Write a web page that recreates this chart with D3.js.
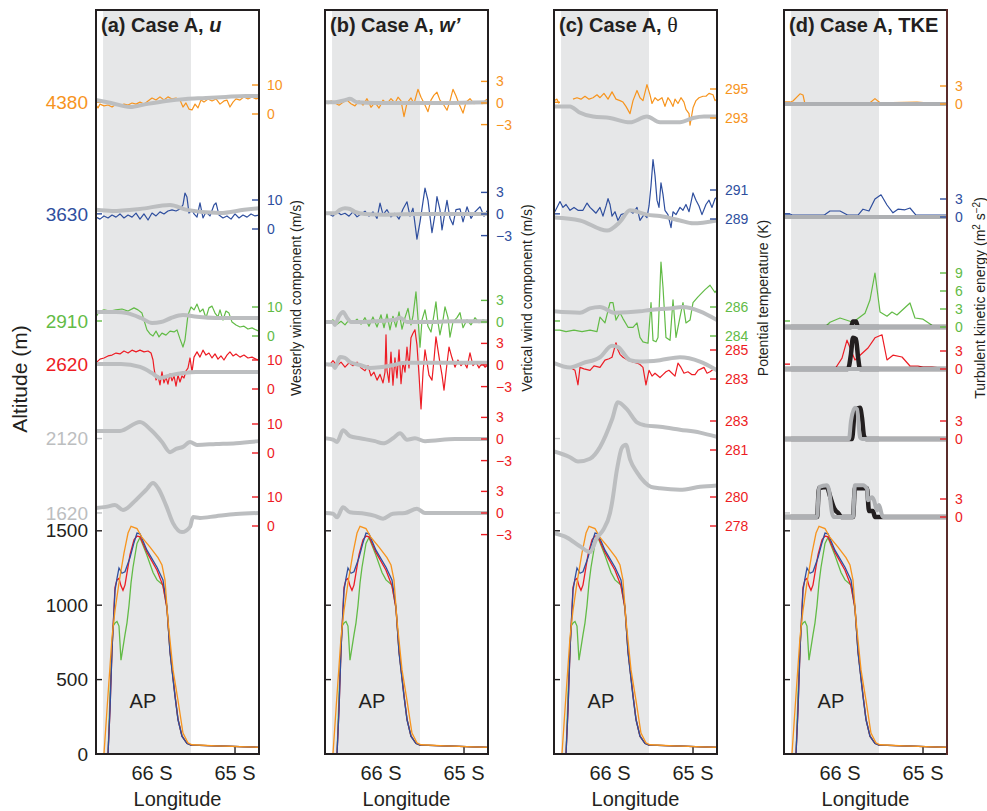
<!DOCTYPE html>
<html lang="en">
<head>
<meta charset="utf-8">
<title>Case A transects</title>
<script src="https://cdn.jsdelivr.net/npm/d3@7"></script>
<style>
  body { margin: 0; background: #fff; }
  svg text { font-family: "Liberation Sans", Arial, Helvetica, sans-serif; fill: #231f20; }
</style>
</head>
<body>
<svg id="chart" width="987" height="811"></svg>
<script>

// ---- common values ----
var LEVELS = [4380, 3630, 2910, 2620, 2120, 1620];
var ALT_TICKS = [0, 500, 1000, 1500];
var LAT_TICKS = [66, 65];
var LAT_TICK_LABELS = ['66 S', '65 S'];
var LAT_DOMAIN = [66.675, 64.711];
var SHADE = [66.59, 65.53];

// terrain under the flight legs (m)
var terrainBlue = [[66.530,0],[66.506,300],[66.482,700],[66.446,1100],[66.422,1180],[66.398,1250],[66.362,1215],[66.326,1225],[66.265,1320],[66.217,1420],[66.181,1485],[66.145,1480],[66.061,1370],[65.940,1255],[65.868,1170],[65.820,990],[65.783,680],[65.723,385],[65.687,230],[65.639,120],[65.579,70],[65.530,60],[65.229,55],[64.711,45]];
var terrainRed = [[66.530,0],[66.506,300],[66.482,700],[66.446,1120],[66.422,1170],[66.398,1180],[66.374,1130],[66.350,1100],[66.326,1135],[66.265,1340],[66.217,1440],[66.181,1465],[66.145,1460],[66.061,1355],[65.940,1235],[65.868,1130],[65.820,980],[65.783,690],[65.723,395],[65.687,235],[65.639,120],[65.579,72],[65.530,60],[65.229,55],[64.711,45]];
var terrainGreen = [[66.530,0],[66.506,400],[66.470,860],[66.446,880],[66.422,890],[66.398,860],[66.374,630],[66.326,800],[66.302,880],[66.277,1000],[66.253,1150],[66.229,1255],[66.181,1415],[66.145,1455],[66.061,1335],[65.988,1220],[65.940,1170],[65.868,1135],[65.820,980],[65.783,690],[65.723,395],[65.687,235],[65.639,120],[65.579,72],[65.530,60],[65.229,55],[64.711,45]];
var terrainOrange = [[66.579,0],[66.530,400],[66.482,785],[66.446,965],[66.398,1150],[66.338,1350],[66.289,1485],[66.253,1530],[66.181,1515],[66.121,1455],[66.024,1390],[65.928,1320],[65.880,1270],[65.844,1170],[65.808,900],[65.747,565],[65.687,360],[65.627,140],[65.567,75],[65.518,62],[65.229,55],[64.711,45]];

// (a) westerly wind u (m/s)
var uObs4380 = [[66.675,3.1],[66.651,2.1],[66.627,3.4],[66.579,2.8],[66.530,3.1],[66.482,2.4],[66.434,3.4],[66.386,2.8],[66.338,3.4],[66.289,3.1],[66.241,3.8],[66.193,3.4],[66.145,4.1],[66.097,3.4],[66.048,4.5],[66.000,5.5],[65.952,4.8],[65.904,5.9],[65.856,4.8],[65.808,5.9],[65.759,5.2],[65.711,5.5],[65.663,4.8],[65.627,2.4],[65.591,3.8],[65.555,1.7],[65.518,1.4],[65.482,3.4],[65.446,2.1],[65.410,4.8],[65.374,4.1],[65.326,5.2],[65.277,4.5],[65.229,5.2],[65.181,3.4],[65.133,4.5],[65.097,4.8],[65.061,2.4],[65.024,4.1],[64.988,5.2],[64.940,4.8],[64.892,5.9],[64.844,5.2],[64.795,5.9],[64.747,5.2],[64.711,5.5]];
var uObs3630 = [[66.675,4.1],[66.627,3.4],[66.579,4.5],[66.530,3.8],[66.482,4.8],[66.434,4.1],[66.386,5.2],[66.338,3.8],[66.289,4.8],[66.241,4.1],[66.193,5.5],[66.145,3.4],[66.097,5.2],[66.048,3.1],[66.000,5.5],[65.952,4.5],[65.904,5.9],[65.856,5.2],[65.808,6.2],[65.759,6.6],[65.711,6.2],[65.663,6.9],[65.627,8.3],[65.603,12.4],[65.579,11.0],[65.555,5.5],[65.518,6.6],[65.494,5.2],[65.458,4.1],[65.422,9.0],[65.386,3.8],[65.350,5.9],[65.302,4.5],[65.253,8.3],[65.229,9.0],[65.193,4.8],[65.145,3.8],[65.097,4.5],[65.048,3.4],[65.000,5.2],[64.952,3.8],[64.904,4.8],[64.855,4.1],[64.807,5.2],[64.759,4.5],[64.711,4.8]];
var uObs2910 = [[66.675,6.6],[66.639,8.3],[66.579,9.0],[66.506,8.6],[66.434,9.0],[66.362,9.3],[66.289,8.6],[66.217,9.7],[66.169,9.0],[66.121,7.9],[66.097,5.5],[66.061,2.1],[66.024,0.7],[65.988,0],[65.952,1.7],[65.916,-0.3],[65.880,1.0],[65.832,0.3],[65.783,1.7],[65.735,1.4],[65.699,2.1],[65.663,-1.0],[65.627,-3.8],[65.603,-1.4],[65.567,7.2],[65.530,10.0],[65.494,9.0],[65.458,11.0],[65.422,8.3],[65.386,9.3],[65.350,6.2],[65.314,9.7],[65.277,10.3],[65.241,7.9],[65.205,6.6],[65.181,9.0],[65.145,5.5],[65.109,8.6],[65.073,7.9],[65.036,4.8],[64.988,3.8],[64.940,3.1],[64.892,3.4],[64.844,2.4],[64.795,2.8],[64.747,2.1],[64.711,1.7]];
var uObs2620 = [[66.675,9.0],[66.627,10.3],[66.579,10.7],[66.530,11.4],[66.482,11.7],[66.434,12.4],[66.386,12.1],[66.338,13.1],[66.289,12.4],[66.241,13.4],[66.193,12.8],[66.145,13.4],[66.097,12.8],[66.048,13.1],[66.012,12.4],[65.988,10.0],[65.976,7.2],[65.952,3.1],[65.928,4.5],[65.904,1.4],[65.880,5.9],[65.856,2.1],[65.832,4.1],[65.808,1.7],[65.783,5.2],[65.759,2.8],[65.735,4.5],[65.711,1.0],[65.687,4.8],[65.663,2.4],[65.639,4.5],[65.615,3.8],[65.591,6.2],[65.567,7.2],[65.542,10.7],[65.518,5.9],[65.494,11.0],[65.458,12.8],[65.422,11.0],[65.386,13.4],[65.350,11.7],[65.314,12.4],[65.277,10.7],[65.241,12.1],[65.205,10.3],[65.169,11.4],[65.133,10.0],[65.097,11.7],[65.061,12.8],[65.024,11.4],[64.988,12.1],[64.940,11.0],[64.892,11.7],[64.844,10.7],[64.795,11.0],[64.747,10.3],[64.711,10.0]];
var uMod4380 = [[66.675,4.8],[66.494,3.8],[66.265,2.4],[66.073,3.4],[65.832,4.5],[65.591,5.2],[65.350,5.5],[65.109,5.9],[64.868,6.2],[64.711,6.2]];
var uMod3630 = [[66.675,6.6],[66.482,6.2],[66.145,6.9],[65.783,8.3],[65.579,6.6],[65.181,5.5],[64.892,6.6],[64.711,7.2]];
var uMod2910 = [[66.675,8.3],[66.434,8.3],[66.302,7.9],[66.133,6.2],[66.000,4.5],[65.892,4.8],[65.771,6.2],[65.627,7.2],[65.458,6.6],[65.229,6.2],[64.988,6.2],[64.711,6.2]];
var uMod2620 = [[66.675,8.6],[66.374,8.6],[66.145,7.6],[66.000,5.5],[65.904,3.8],[65.771,4.8],[65.627,5.5],[65.470,5.9],[65.109,5.9],[64.711,5.9]];
var uMod2120 = [[66.675,7.6],[66.386,7.6],[66.145,10.7],[66.012,7.9],[65.880,3.8],[65.783,0.3],[65.711,1.4],[65.627,2.1],[65.542,3.8],[65.458,2.8],[65.229,3.1],[64.988,3.4],[64.711,4.1]];
var uMod1620 = [[66.675,6.2],[66.555,6.6],[66.446,7.2],[66.350,5.5],[66.193,9.0],[66.073,12.4],[65.988,14.8],[65.928,13.1],[65.832,7.2],[65.747,1.0],[65.639,-2.1],[65.542,-0.3],[65.506,3.1],[65.422,2.8],[65.229,3.4],[64.988,4.1],[64.711,4.5]];

// (b) vertical wind w' (m/s)
var wObs4380 = [[66.675,0.4],[66.639,-0.1],[66.603,0.3],[66.555,0],[66.506,-0.3],[66.458,0.1],[66.410,0.4],[66.362,-0.1],[66.314,-0.4],[66.265,0.3],[66.217,-0.3],[66.169,0.6],[66.121,-0.6],[66.073,0.1],[66.024,-0.7],[65.976,0.4],[65.928,-0.1],[65.880,0.6],[65.832,0],[65.795,0.8],[65.759,0.3],[65.723,-1.9],[65.687,0],[65.639,0.7],[65.603,-0.1],[65.555,1.9],[65.518,0.8],[65.482,0],[65.434,-1.2],[65.398,0.4],[65.362,1.1],[65.326,1.5],[65.290,0.4],[65.253,-0.1],[65.205,-1.0],[65.169,0.3],[65.133,1.9],[65.097,1.0],[65.061,-0.1],[65.012,-1.4],[64.976,0.1],[64.928,0.6],[64.880,-0.1],[64.831,0.1],[64.783,-0.1],[64.747,0.3],[64.711,0.6]];
var wObs3630 = [[66.675,0.1],[66.627,0],[66.579,-0.3],[66.530,0.3],[66.482,-0.1],[66.434,0.1],[66.386,-0.3],[66.338,0.3],[66.289,-0.4],[66.241,0],[66.193,0.4],[66.145,-0.3],[66.097,0.3],[66.048,-0.6],[66.012,1.5],[65.976,-0.1],[65.928,0.6],[65.880,-0.4],[65.832,0.1],[65.783,-0.7],[65.735,0.7],[65.687,1.7],[65.651,-0.3],[65.615,0.8],[65.567,-3.5],[65.530,-1.1],[65.470,3.6],[65.434,1.9],[65.386,-2.6],[65.350,-0.1],[65.326,2.4],[65.290,0.6],[65.265,-2.2],[65.229,0.3],[65.205,1.9],[65.169,-0.6],[65.133,-1.5],[65.097,0.6],[65.048,0.7],[65.012,-1.1],[64.964,1.0],[64.916,-0.6],[64.868,0.3],[64.807,1.0],[64.759,-0.3],[64.711,0.6]];
var wObs2910 = [[66.675,0.1],[66.627,-0.1],[66.579,0.3],[66.530,-0.3],[66.482,0.1],[66.434,-0.4],[66.386,0.3],[66.338,-0.1],[66.289,0.4],[66.241,-0.3],[66.193,0.6],[66.145,-0.6],[66.097,0.7],[66.048,-0.7],[66.000,1.0],[65.964,-0.8],[65.928,1.1],[65.892,-1.1],[65.856,0.8],[65.820,-0.7],[65.783,1.4],[65.747,-1.0],[65.711,0.6],[65.675,1.9],[65.639,-0.4],[65.615,0.8],[65.579,4.2],[65.555,0.6],[65.530,-3.5],[65.506,0.3],[65.470,1.7],[65.434,-0.6],[65.398,-1.4],[65.362,1.0],[65.338,2.8],[65.314,0],[65.290,-1.8],[65.253,0.3],[65.229,2.1],[65.193,0.6],[65.169,-2.1],[65.133,0],[65.085,0.6],[65.048,1.3],[65.012,-0.8],[64.964,0.3],[64.916,-0.4],[64.868,0.6],[64.820,-0.1],[64.771,0.3],[64.711,0.1]];
var wObs2620 = [[66.675,0.1],[66.627,-0.1],[66.579,0.6],[66.530,-0.1],[66.482,0.4],[66.434,-0.3],[66.386,0.3],[66.338,-0.1],[66.289,0.4],[66.241,-0.4],[66.193,-0.8],[66.157,-0.1],[66.121,-1.5],[66.085,-1.0],[66.048,-2.1],[66.012,-1.3],[65.976,-2.5],[65.952,-1.0],[65.940,4.2],[65.928,-0.7],[65.904,-2.4],[65.880,1.8],[65.856,-2.8],[65.832,1.0],[65.808,-1.8],[65.783,2.1],[65.759,-2.6],[65.735,0.4],[65.711,-1.0],[65.687,2.5],[65.663,-0.4],[65.639,3.8],[65.615,4.4],[65.591,4.9],[65.567,2.8],[65.542,-1.4],[65.518,-6.1],[65.494,-1.0],[65.470,2.1],[65.446,0.4],[65.422,-1.4],[65.386,-2.1],[65.362,0.7],[65.338,3.9],[65.314,2.1],[65.290,0.3],[65.265,-1.4],[65.241,-3.5],[65.217,-1.0],[65.181,2.5],[65.145,1.0],[65.109,-0.3],[65.073,0.7],[65.036,-0.1],[65.000,0.4],[64.964,-0.4],[64.928,1.7],[64.892,-0.1],[64.855,0.4],[64.820,-0.4],[64.783,0.3],[64.747,-0.3],[64.711,0]];
var wMod4380 = [[66.675,0.1],[66.555,0.1],[66.434,0.4],[66.374,0.6],[66.289,0.1],[66.073,0],[65.711,0],[65.229,0],[64.711,0.1]];
var wMod3630 = [[66.675,0.1],[66.555,0.1],[66.494,0.6],[66.434,0.8],[66.374,0.7],[66.314,0.3],[66.193,0],[65.952,-0.1],[65.591,0],[65.109,0],[64.711,0]];
var wMod2910 = [[66.675,0],[66.579,0],[66.555,-0.4],[66.506,0.8],[66.458,1.4],[66.410,0.6],[66.362,0],[66.253,0],[66.073,0.1],[65.832,0.3],[65.771,0.6],[65.687,0],[65.470,0],[65.109,0.1],[64.711,0.1]];
var wMod2620 = [[66.675,0.1],[66.579,0],[66.555,-0.4],[66.494,1.1],[66.434,1.0],[66.374,0.4],[66.253,0],[66.133,-0.4],[66.012,-0.3],[65.892,-0.1],[65.711,0.3],[65.470,0.3],[65.109,0.3],[64.711,0.3]];
var wMod2120 = [[66.675,0.1],[66.579,-0.1],[66.530,-0.4],[66.458,1.2],[66.374,0.4],[66.253,0.1],[66.073,-0.3],[65.976,-0.6],[65.856,0.1],[65.771,0.8],[65.687,-0.1],[65.591,0.1],[65.470,-0.3],[65.109,0],[64.711,0]];
var wMod1620 = [[66.675,0],[66.579,-0.1],[66.530,-0.6],[66.458,0.8],[66.374,0.1],[66.193,-0.1],[66.073,-0.4],[65.976,-0.8],[65.856,-0.1],[65.711,0],[65.567,0.6],[65.470,0],[65.109,0],[64.711,0]];

// (c) potential temperature (K)
var tObs4380 = [[66.675,294.2],[66.639,294.3],[66.615,294.0],[66.580,null],[66.446,294.3],[66.398,294.4],[66.350,294.3],[66.302,294.5],[66.253,294.3],[66.205,294.4],[66.157,294.6],[66.121,294.4],[66.073,294.7],[66.024,294.3],[65.976,294.8],[65.928,294.3],[65.880,294.2],[65.844,294.1],[65.808,293.8],[65.759,293.3],[65.723,294.2],[65.675,294.9],[65.639,294.4],[65.603,294.2],[65.555,295.3],[65.518,294.6],[65.494,294.0],[65.458,294.4],[65.422,294.2],[65.374,294.4],[65.338,293.8],[65.302,294.4],[65.277,294.2],[65.241,293.8],[65.217,294.3],[65.181,294.0],[65.145,294.4],[65.109,294.1],[65.085,293.6],[65.048,293.3],[65.036,292.5],[65.000,293.7],[64.964,294.2],[64.928,294.4],[64.880,294.5],[64.844,294.5],[64.807,294.7],[64.759,294.6],[64.735,294.2],[64.711,294.3]];
var tObs3630 = [[66.675,289.4],[66.639,289.8],[66.603,290.2],[66.567,289.8],[66.530,290.0],[66.482,289.6],[66.434,289.8],[66.386,289.6],[66.326,289.6],[66.277,290.1],[66.241,289.8],[66.205,289.6],[66.169,289.4],[66.121,289.8],[66.085,289.2],[66.048,289.9],[66.024,290.4],[66.000,290.0],[65.976,289.2],[65.940,289.5],[65.904,288.9],[65.868,289.3],[65.820,289.4],[65.771,289.6],[65.723,289.4],[65.675,289.8],[65.639,288.9],[65.591,289.3],[65.555,289.1],[65.530,289.9],[65.506,291.3],[65.482,293.1],[65.458,292.0],[65.434,290.3],[65.410,289.8],[65.386,291.5],[65.362,290.7],[65.338,289.6],[65.302,289.3],[65.265,288.4],[65.241,289.5],[65.205,289.3],[65.157,289.8],[65.121,289.6],[65.085,290.0],[65.048,289.5],[65.000,290.8],[64.964,290.3],[64.928,289.9],[64.892,289.3],[64.844,290.0],[64.807,290.3],[64.771,289.8],[64.735,290.4],[64.711,290.5]];
var tObs2910 = [[66.675,284.4],[66.603,284.4],[66.530,284.3],[66.434,284.4],[66.338,284.3],[66.241,284.4],[66.157,284.3],[66.121,285.3],[66.061,284.9],[66.000,286.3],[65.964,286.3],[65.928,285.1],[65.880,285.6],[65.844,285.2],[65.783,284.6],[65.723,284.6],[65.675,284.9],[65.639,283.9],[65.603,283.6],[65.542,283.5],[65.506,286.3],[65.482,283.7],[65.446,283.6],[65.422,283.9],[65.386,289.1],[65.362,287.4],[65.326,283.9],[65.277,283.7],[65.241,286.5],[65.205,283.9],[65.157,285.3],[65.121,286.3],[65.085,284.9],[65.036,285.1],[65.000,286.3],[64.940,286.7],[64.855,287.2],[64.795,287.5],[64.735,287.0],[64.711,287.2]];
var tObs2620 = [[66.675,284.1],[66.615,284.0],[66.555,283.9],[66.482,283.8],[66.422,283.6],[66.386,282.6],[66.362,283.8],[66.314,283.7],[66.241,283.6],[66.193,283.9],[66.121,283.8],[66.061,284.3],[66.012,284.4],[65.976,284.5],[65.928,285.5],[65.904,285.0],[65.880,284.7],[65.844,284.5],[65.783,284.3],[65.735,284.2],[65.675,284.1],[65.639,284.0],[65.603,283.8],[65.567,282.6],[65.530,283.6],[65.494,283.2],[65.458,283.4],[65.398,283.1],[65.362,283.3],[65.326,283.5],[65.290,283.6],[65.253,283.4],[65.217,283.2],[65.181,284.1],[65.145,283.8],[65.109,283.4],[65.061,283.5],[65.012,283.3],[64.976,283.3],[64.940,283.6],[64.904,283.7],[64.868,283.8],[64.831,283.4],[64.795,283.5],[64.747,283.7],[64.711,283.6]];
var tMod4380 = [[66.675,293.8],[66.482,293.8],[66.374,293.4],[66.205,293.1],[66.000,293.0],[65.759,292.7],[65.555,293.1],[65.398,292.7],[65.157,292.7],[65.000,293.0],[64.868,293.1],[64.711,293.1]];
var tMod3630 = [[66.675,289.1],[66.362,288.9],[66.036,288.2],[65.880,288.8],[65.759,289.6],[65.555,289.3],[65.398,289.2],[65.157,288.9],[65.000,288.7],[64.711,288.9]];
var tMod2910 = [[66.675,285.7],[66.362,285.6],[66.241,285.9],[66.121,286.0],[65.940,285.6],[65.639,285.7],[65.518,285.8],[65.277,285.9],[65.121,286.0],[64.916,285.7],[64.711,285.1]];
var tMod2620 = [[66.675,284.1],[66.482,283.8],[66.326,284.1],[66.121,284.5],[65.976,285.3],[65.904,285.2],[65.759,284.3],[65.639,284.2],[65.398,284.3],[65.157,284.5],[64.916,284.2],[64.711,283.6]];
var tMod2120 = [[66.675,280.9],[66.482,280.5],[66.386,280.2],[66.241,280.4],[66.121,281.2],[65.976,283.1],[65.904,284.3],[65.795,283.8],[65.675,282.9],[65.579,282.7],[65.398,282.6],[65.157,282.4],[64.916,282.2],[64.711,281.9]];
var tMod1620 = [[66.675,277.5],[66.518,277.2],[66.362,276.6],[66.241,276.2],[66.157,277.2],[66.085,277.7],[66.000,278.9],[65.976,279.6],[65.916,281.9],[65.856,283.4],[65.808,283.6],[65.759,282.6],[65.675,281.7],[65.579,281.0],[65.506,280.7],[65.398,280.6],[65.157,280.5],[64.916,280.7],[64.711,280.8]];

// (d) turbulent kinetic energy (m2 s-2)
var kObs4380 = [[66.675,0.3],[66.603,0.3],[66.567,0.5],[66.482,1.7],[66.446,1.5],[66.422,0],[65.844,0],[65.639,0.2],[65.579,0.9],[65.518,0.2],[65.073,0.3],[64.952,0.2],[64.711,0]];
var kObs3630 = [[66.675,0.5],[66.603,0.5],[66.567,0.3],[66.193,0.3],[66.121,1.0],[66.000,1.0],[65.904,0.3],[65.783,0.3],[65.723,1.3],[65.651,1.0],[65.579,3.0],[65.506,3.7],[65.434,2.0],[65.362,0.7],[65.302,1.3],[65.217,1.2],[65.157,1.5],[65.085,0.3],[64.711,0.3]];
var kObs2910 = [[66.675,0],[66.181,0],[66.121,0.8],[66.000,1.5],[65.844,0.8],[65.699,2.3],[65.639,4.5],[65.579,9.0],[65.518,2.5],[65.434,1.8],[65.374,2.5],[65.314,2.0],[65.157,4.0],[65.097,1.5],[65.000,1.3],[64.892,0.3],[64.844,0],[64.711,0]];
var kObs2620 = [[66.675,0],[66.061,0],[65.976,1.8],[65.916,4.8],[65.820,1.5],[65.759,2.3],[65.663,3.5],[65.579,5.2],[65.494,5.7],[65.434,1.5],[65.362,2.3],[65.253,2.0],[65.157,0.5],[65.061,0.5],[65.000,0.3],[64.892,0.3],[64.795,0.2],[64.711,0]];
var kMod4380 = [[66.675,0],[64.711,0]];
var kMod3630 = [[66.675,0],[64.711,0]];
var kMod2910 = [[66.675,0],[64.711,0]];
var kMod2620 = [[66.675,0],[64.711,0]];
var kMod2120 = [[66.675,0],[65.892,0],[65.868,3.0],[65.820,5.2],[65.795,5.0],[65.759,0.3],[65.735,0],[64.711,0]];
var kMod1620 = [[66.675,0],[66.277,0],[66.253,5.0],[66.157,5.3],[66.133,4.5],[66.097,0.7],[66.073,0],[65.844,0],[65.820,5.3],[65.723,5.3],[65.675,4.7],[65.663,2.8],[65.615,3.3],[65.591,2.8],[65.555,1.1],[65.530,2.0],[65.494,0.3],[65.482,0],[64.711,0]];
var kBlk2910 = [[66.675,0],[65.868,0],[65.844,0.9],[65.808,0.9],[65.783,0],[64.711,0]];
var kBlk2620 = [[66.675,0],[65.904,0],[65.868,2.5],[65.844,5.2],[65.808,5.0],[65.783,2.0],[65.759,0],[64.711,0]];
var kBlk2120 = [[66.675,0],[65.856,0],[65.820,4.8],[65.759,5.2],[65.735,3.5],[65.711,0.5],[65.687,0],[64.711,0]];
var kBlk1620 = [[66.675,0],[66.277,0],[66.253,4.8],[66.157,5.0],[66.121,3.5],[66.073,1.5],[66.012,0.5],[65.988,0],[65.844,0],[65.820,4.8],[65.675,4.8],[65.651,1.0],[65.603,1.0],[65.579,0],[64.711,0]];

// ---- layout / styling ----
var INK = '#231f20';
var ORANGE = '#f7941d', BLUE = '#2e4e9e', GREEN = '#62bb46', RED = '#ed1c24', LGRAY = '#bcbec0';
var LEVEL_COLORS = [ORANGE, BLUE, GREEN, RED, LGRAY, LGRAY];
var TICK_COLORS = [ORANGE, BLUE, GREEN, RED, RED, RED];
var OBS_COLORS = [ORANGE, BLUE, GREEN, RED];

var W = 163, TOP = 10, BOTTOM = 754;

var panels = [
  { left: 96, letter: '(a) Case A, ', sym: 'u', symStyle: 'italic',
    ppu: 2.9, refVal: [0,0,0,0,0,0], refY: [114, 229, 336, 389, 453, 526],
    ticks: [[0,10],[0,10],[0,10],[0,10],[0,10],[0,10]],
    obs: [uObs4380, uObs3630, uObs2910, uObs2620],
    mod: [uMod4380, uMod3630, uMod2910, uMod2620, uMod2120, uMod1620],
    title: 'Westerly wind component (m/s)', titleX: 296 },
  { left: 325, letter: '(b) Case A, ', sym: 'w\u2019', symStyle: 'italic',
    ppu: 7.2, refVal: [0,0,0,0,0,0], refY: [103, 214, 322, 365, 439, 513],
    ticks: [[-3,0,3],[-3,0,3],[0,3],[-3,0,3],[-3,0,3],[-3,0,3]],
    obs: [wObs4380, wObs3630, wObs2910, wObs2620],
    mod: [wMod4380, wMod3630, wMod2910, wMod2620, wMod2120, wMod1620],
    title: 'Vertical wind component (m/s)', titleX: 527 },
  { left: 554, letter: '(c) Case A, ', sym: '\u03b8', symStyle: 'serif',
    ppu: 14.5, refVal: [293, 289, 284, 283, 281, 278], refY: [118, 219, 336, 379, 450, 526],
    ticks: [[293,295],[289,291],[284,286],[283,285],[281,283],[278,280]],
    obs: [tObs4380, tObs3630, tObs2910, tObs2620],
    mod: [tMod4380, tMod3630, tMod2910, tMod2620, tMod2120, tMod1620],
    title: 'Potential temperature (K)', titleX: 763 },
  { left: 784, letter: '(d) Case A, TKE', sym: '', symStyle: '',
    ppu: 6, refVal: [0,0,0,0,0,0], refY: [104, 217, 327, 369, 439, 517],
    ticks: [[0,3],[0,3],[0,3,6,9],[0,3],[0,3],[0,3]],
    obs: [kObs4380, kObs3630, kObs2910, kObs2620],
    mod: [kMod4380, kMod3630, kMod2910, kMod2620, kMod2120, kMod1620],
    black: [null, null, kBlk2910, kBlk2620, kBlk2120, kBlk1620],
    title: 'tke', titleX: 980 }
];

var terrain = [
  { data: terrainGreen, color: GREEN },
  { data: terrainRed, color: RED },
  { data: terrainBlue, color: BLUE },
  { data: terrainOrange, color: ORANGE }
];

var svg = d3.select('#chart');
var yAlt = d3.scaleLinear().domain([0, 5000]).range([BOTTOM, TOP]);

function fmtTick(v) {
  return v < 0 ? '\u2212' + Math.abs(v) : String(v);
}

function levelScale(p, i) {
  return d3.scaleLinear()
    .domain([p.refVal[i], p.refVal[i] + 1])
    .range([p.refY[i], p.refY[i] - p.ppu]);
}

panels.forEach(function(p, pi) {
  var x = d3.scaleLinear().domain(LAT_DOMAIN).range([p.left, p.left + W]);
  var g = svg.append('g');

  g.append('clipPath').attr('id', 'clip' + pi)
    .append('rect')
    .attr('x', p.left).attr('y', TOP)
    .attr('width', W).attr('height', BOTTOM - TOP);

  // latitude ticks go under the AP shading
  g.selectAll('line.xtick').data(LAT_TICKS).enter().append('line')
    .attr('class', 'xtick')
    .attr('x1', function(d) { return x(d); }).attr('x2', function(d) { return x(d); })
    .attr('y1', BOTTOM).attr('y2', BOTTOM - 7)
    .attr('stroke', INK).attr('stroke-width', 1.4);

  g.append('rect')
    .attr('x', x(SHADE[0])).attr('width', x(SHADE[1]) - x(SHADE[0]))
    .attr('y', TOP).attr('height', BOTTOM - TOP)
    .attr('fill', '#e6e7e8');

  // left ticks: terrain altitudes in black, flight levels in their colour
  g.selectAll('line.atick').data(ALT_TICKS).enter().append('line')
    .attr('class', 'atick')
    .attr('x1', p.left).attr('x2', p.left + 6)
    .attr('y1', function(d) { return yAlt(d); }).attr('y2', function(d) { return yAlt(d); })
    .attr('stroke', INK).attr('stroke-width', 1.4);
  g.selectAll('line.ltick').data(LEVELS).enter().append('line')
    .attr('class', 'ltick')
    .attr('x1', p.left).attr('x2', p.left + 6)
    .attr('y1', function(d) { return yAlt(d); }).attr('y2', function(d) { return yAlt(d); })
    .attr('stroke', function(d, i) { return LEVEL_COLORS[i]; }).attr('stroke-width', 1.4);

  var plot = g.append('g').attr('clip-path', 'url(#clip' + pi + ')');

  var terrainLine = d3.line()
    .x(function(d) { return x(d[0]); })
    .y(function(d) { return yAlt(d[1]); });
  terrain.forEach(function(t) {
    plot.append('path').datum(t.data)
      .attr('d', terrainLine)
      .attr('fill', 'none').attr('stroke', t.color).attr('stroke-width', 1.3);
  });

  // observed traces first, model (gray) over them
  LEVELS.forEach(function(lev, i) {
    var ys = levelScale(p, i);
    var line = d3.line()
      .defined(function(d) { return d[1] != null; })
      .x(function(d) { return x(d[0]); })
      .y(function(d) { return ys(d[1]); });
    var smooth = d3.line()
      .curve(d3.curveMonotoneX)
      .x(function(d) { return x(d[0]); })
      .y(function(d) { return ys(d[1]); });

    if (i < 4) {
      plot.append('path').datum(p.obs[i])
        .attr('d', line)
        .attr('fill', 'none').attr('stroke', OBS_COLORS[i])
        .attr('stroke-width', 1.2).attr('stroke-linejoin', 'round');
    }
    if (p.black && p.black[i]) {
      plot.append('path').datum(p.black[i])
        .attr('d', smooth)
        .attr('fill', 'none').attr('stroke', INK)
        .attr('stroke-width', 4.5).attr('stroke-linejoin', 'round');
    }
    plot.append('path').datum(p.mod[i])
      .attr('d', smooth)
      .attr('fill', 'none').attr('stroke', pi == 3 ? '#aeb0b3' : LGRAY)
      .attr('stroke-width', 4).attr('stroke-linejoin', 'round').attr('stroke-linecap', 'round');

    // right-hand ticks and labels for this level
    p.ticks[i].forEach(function(v) {
      g.append('line')
        .attr('x1', p.left + W - 7).attr('x2', p.left + W)
        .attr('y1', ys(v)).attr('y2', ys(v))
        .attr('stroke', TICK_COLORS[i]).attr('stroke-width', 1.4);
      g.append('text')
        .attr('x', p.left + W + 8).attr('y', ys(v)).attr('dy', '0.35em')
        .style('font-size', '14px').style('fill', TICK_COLORS[i])
        .text(fmtTick(v));
    });
  });

  g.append('rect')
    .attr('x', p.left).attr('y', TOP)
    .attr('width', W).attr('height', BOTTOM - TOP)
    .attr('fill', 'none').attr('stroke', INK).attr('stroke-width', 2);
  if (pi == 3) {
    g.append('line')
      .attr('x1', p.left + W).attr('x2', p.left + W)
      .attr('y1', TOP - 1).attr('y2', BOTTOM + 1)
      .attr('stroke', '#5b2c2a').attr('stroke-width', 2);
  }

  // panel title
  var t = g.append('text')
    .attr('x', p.left + 5).attr('y', 32)
    .style('font-size', '20px').style('font-weight', 'bold');
  t.append('tspan').text(p.letter);
  if (p.symStyle == 'italic') {
    t.append('tspan').style('font-style', 'italic').text(p.sym);
  } else if (p.symStyle == 'serif') {
    t.append('tspan')
      .style('font-family', '"Liberation Serif", "DejaVu Serif", serif')
      .style('font-weight', 'normal').style('font-size', '22px')
      .text(p.sym);
  }

  g.append('text')
    .attr('x', x(66.11)).attr('y', 708)
    .attr('text-anchor', 'middle').style('font-size', '20px')
    .text('AP');

  g.selectAll('text.xlab').data(LAT_TICKS).enter().append('text')
    .attr('class', 'xlab')
    .attr('x', function(d) { return x(d); }).attr('y', 780)
    .attr('text-anchor', 'middle').style('font-size', '20px')
    .text(function(d, i) { return LAT_TICK_LABELS[i]; });

  g.append('text')
    .attr('x', p.left + W / 2).attr('y', 806)
    .attr('text-anchor', 'middle').style('font-size', '20px')
    .text('Longitude');

  // right-hand axis title
  var rt = g.append('text')
    .attr('transform', 'translate(' + p.titleX + ',298) rotate(-90)')
    .attr('text-anchor', 'middle').attr('dy', '0.35em')
    .style('font-size', '14px');
  if (p.title == 'tke') {
    rt.append('tspan').text('Turbulent kinetic energy (m');
    rt.append('tspan').attr('dy', -5).style('font-size', '10px').text('2');
    rt.append('tspan').attr('dy', 5).text(' s');
    rt.append('tspan').attr('dy', -5).style('font-size', '10px').text('\u22122');
    rt.append('tspan').attr('dy', 5).text(')');
  } else {
    rt.text(p.title);
  }
});

// left axis labels (only on panel a)
var leftLabels = ALT_TICKS.map(function(d) { return { v: d, c: INK }; })
  .concat(LEVELS.map(function(d, i) { return { v: d, c: LEVEL_COLORS[i] }; }));
svg.selectAll('text.ylab').data(leftLabels).enter().append('text')
  .attr('class', 'ylab')
  .attr('x', 88).attr('y', function(d) { return yAlt(d.v); }).attr('dy', '0.35em')
  .attr('text-anchor', 'end')
  .style('font-size', '19px').style('fill', function(d) { return d.c; })
  .text(function(d) { return d.v; });

svg.append('text')
  .attr('transform', 'translate(20,379) rotate(-90)')
  .attr('text-anchor', 'middle').attr('dy', '0.35em')
  .style('font-size', '21px')
  .text('Altitude (m)');

</script>
</body>
</html>
